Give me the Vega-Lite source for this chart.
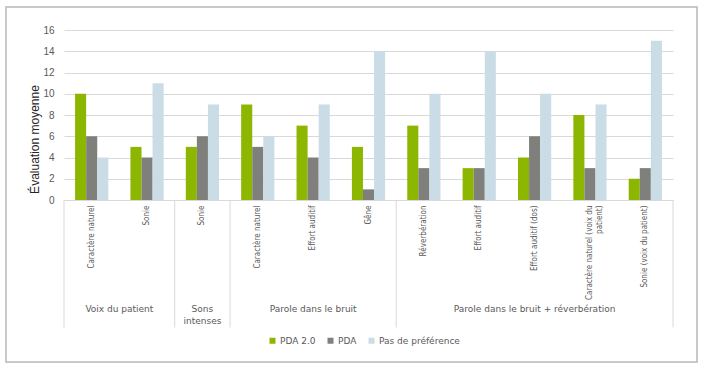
{
  "$schema": "https://vega.github.io/schema/vega-lite/v6.json",
  "width": 609,
  "height": 170,
  "autosize": {"type": "none"},
  "padding": {"left": 64, "top": 30, "right": 30, "bottom": 168},
  "background": "#ffffff",
  "config": {
    "view": {"stroke": null},
    "font": "DejaVu Sans",
    "axisY": {
      "grid": true,
      "gridColor": "#d9d9d9",
      "domain": false,
      "ticks": false,
      "labelOverlap": false,
      "labelFlush": false,
      "labelFont": "Liberation Sans",
      "labelFontSize": 10,
      "labelColor": "#595959",
      "labelPadding": 10,
      "titleFont": "Liberation Sans",
      "titleFontSize": 12,
      "titleFontWeight": "normal",
      "titleColor": "#262626"
    }
  },
  "datasets": {
    "scores": [
      {"key": "01|Caractère naturel", "series": "PDA 2.0", "value": 10},
      {"key": "01|Caractère naturel", "series": "PDA", "value": 6},
      {"key": "01|Caractère naturel", "series": "Pas de préférence", "value": 4},
      {"key": "02|Sonie", "series": "PDA 2.0", "value": 5},
      {"key": "02|Sonie", "series": "PDA", "value": 4},
      {"key": "02|Sonie", "series": "Pas de préférence", "value": 11},
      {"key": "03|Sonie", "series": "PDA 2.0", "value": 5},
      {"key": "03|Sonie", "series": "PDA", "value": 6},
      {"key": "03|Sonie", "series": "Pas de préférence", "value": 9},
      {"key": "04|Caractère naturel", "series": "PDA 2.0", "value": 9},
      {"key": "04|Caractère naturel", "series": "PDA", "value": 5},
      {"key": "04|Caractère naturel", "series": "Pas de préférence", "value": 6},
      {"key": "05|Effort auditif", "series": "PDA 2.0", "value": 7},
      {"key": "05|Effort auditif", "series": "PDA", "value": 4},
      {"key": "05|Effort auditif", "series": "Pas de préférence", "value": 9},
      {"key": "06|Gêne", "series": "PDA 2.0", "value": 5},
      {"key": "06|Gêne", "series": "PDA", "value": 1},
      {"key": "06|Gêne", "series": "Pas de préférence", "value": 14},
      {"key": "07|Réverbération", "series": "PDA 2.0", "value": 7},
      {"key": "07|Réverbération", "series": "PDA", "value": 3},
      {"key": "07|Réverbération", "series": "Pas de préférence", "value": 10},
      {"key": "08|Effort auditif", "series": "PDA 2.0", "value": 3},
      {"key": "08|Effort auditif", "series": "PDA", "value": 3},
      {"key": "08|Effort auditif", "series": "Pas de préférence", "value": 14},
      {"key": "09|Effort auditif (dos)", "series": "PDA 2.0", "value": 4},
      {"key": "09|Effort auditif (dos)", "series": "PDA", "value": 6},
      {"key": "09|Effort auditif (dos)", "series": "Pas de préférence", "value": 10},
      {"key": "10|Caractère naturel (voix du~patient)", "series": "PDA 2.0", "value": 8},
      {"key": "10|Caractère naturel (voix du~patient)", "series": "PDA", "value": 3},
      {"key": "10|Caractère naturel (voix du~patient)", "series": "Pas de préférence", "value": 9},
      {"key": "11|Sonie (voix du patient)", "series": "PDA 2.0", "value": 2},
      {"key": "11|Sonie (voix du patient)", "series": "PDA", "value": 3},
      {"key": "11|Sonie (voix du patient)", "series": "Pas de préférence", "value": 15}
    ],
    "groups": [
      {"grp": "Voix du patient", "mid": 1},
      {"grp": "Sons\nintenses", "mid": 2.5},
      {"grp": "Parole dans le bruit", "mid": 4.5},
      {"grp": "Parole dans le bruit + réverbération", "mid": 8.5}
    ],
    "bounds": [{"b": 0}, {"b": 2}, {"b": 3}, {"b": 6}, {"b": 11}]
  },
  "layer": [
    {
      "data": {"name": "scores"},
      "mark": {"type": "bar"},
      "encoding": {
        "x": {
          "field": "key",
          "type": "nominal",
          "sort": null,
          "scale": {"paddingInner": 0, "paddingOuter": 0},
          "axis": {
            "title": null,
            "labelAngle": 270,
            "labelExpr": "split(split(datum.value, '|')[1], '~')",
            "labelFont": "DejaVu Sans Condensed, Liberation Sans, sans-serif",
            "labelFontSize": 8,
            "labelColor": "#595959",
            "labelLineHeight": 10,
            "labelLimit": 0,
            "labelPadding": 5,
            "labelOverlap": false,
            "ticks": false,
            "domainColor": "#d9d9d9"
          }
        },
        "xOffset": {
          "field": "series",
          "type": "nominal",
          "sort": ["PDA 2.0", "PDA", "Pas de préférence"],
          "scale": {"paddingInner": 0, "paddingOuter": 1.268}
        },
        "y": {
          "field": "value",
          "type": "quantitative",
          "scale": {"domain": [0, 16], "nice": false},
          "axis": {
            "title": "Évaluation moyenne",
            "values": [0, 2, 4, 6, 8, 10, 12, 14, 16],
            "titleX": -23,
            "titleY": 109
          }
        },
        "color": {
          "field": "series",
          "type": "nominal",
          "sort": ["PDA 2.0", "PDA", "Pas de préférence"],
          "scale": {"domain": ["PDA 2.0", "PDA", "Pas de préférence"], "range": ["#8DB600", "#7F7F7B", "#CADCE6"]},
          "legend": {
            "orient": "none",
            "legendX": 204,
            "legendY": 306,
            "direction": "horizontal",
            "title": null,
            "symbolType": "square",
            "symbolSize": 36,
            "symbolStrokeWidth": 0,
            "labelFont": "DejaVu Sans",
            "labelFontSize": 9,
            "labelColor": "#595959",
            "labelOffset": 3,
            "columnPadding": 10
          }
        }
      }
    },
    {
      "data": {"values": [{}]},
      "mark": {"type": "rect", "fill": null, "stroke": "#b8b8b8", "strokeWidth": 1.5},
      "encoding": {
        "x": {"datum": -1.048, "type": "quantitative", "scale": {"domain": [0, 11], "nice": false, "zero": false}, "axis": null},
        "x2": {"datum": 11.434},
        "y": {"datum": 18.16, "type": "quantitative", "axis": {"values": [0, 2, 4, 6, 8, 10, 12, 14, 16]}},
        "y2": {"datum": -15.25}
      }
    },
    {
      "data": {"name": "bounds"},
      "mark": {"type": "rule", "stroke": "#d9d9d9", "strokeWidth": 1},
      "encoding": {
        "x": {"field": "b", "type": "quantitative", "scale": {"domain": [0, 11], "nice": false, "zero": false}, "axis": null},
        "y": {"datum": 0, "type": "quantitative", "axis": {"values": [0, 2, 4, 6, 8, 10, 12, 14, 16]}},
        "y2": {"datum": -12}
      }
    },
    {
      "data": {"name": "groups"},
      "mark": {"type": "text", "baseline": "top", "align": "center", "lineBreak": "\n", "lineHeight": 12, "fontSize": 9, "font": "DejaVu Sans", "color": "#595959"},
      "encoding": {
        "x": {"field": "mid", "type": "quantitative", "scale": {"domain": [0, 11], "nice": false, "zero": false}, "axis": null},
        "y": {"datum": -9.88, "type": "quantitative", "axis": {"values": [0, 2, 4, 6, 8, 10, 12, 14, 16]}},
        "text": {"field": "grp"}
      }
    }
  ],
  "resolve": {"scale": {"x": "independent"}}
}
